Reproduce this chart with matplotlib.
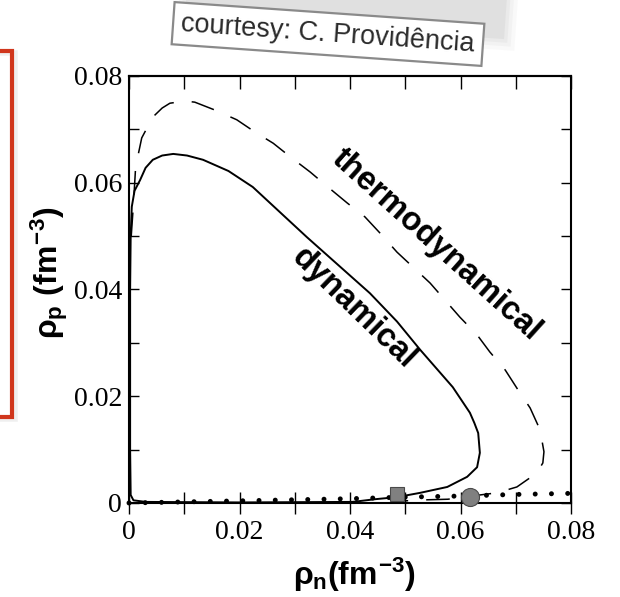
import numpy as np
import matplotlib
matplotlib.use("Agg")
import matplotlib.pyplot as plt
from matplotlib.patches import Rectangle

plt.rcParams['lines.scale_dashes'] = False
plt.rcParams['mathtext.fontset'] = 'custom'
plt.rcParams['mathtext.rm'] = 'Liberation Sans:bold'
plt.rcParams['mathtext.it'] = 'Liberation Sans:bold'
plt.rcParams['mathtext.bf'] = 'Liberation Sans:bold'

# dynamical spinodal (solid)
dyn_x = [0.0405, 0.0445, 0.0485, 0.0527, 0.0576, 0.0612, 0.0630, 0.0635, 0.0632,
         0.0625, 0.0617, 0.0586, 0.0527, 0.0485, 0.0436, 0.0322, 0.0224, 0.0180,
         0.0134, 0.0105, 0.0080, 0.0060, 0.0043, 0.0030, 0.0020, 0.0010, 0.0005,
         0.0003, 0.0002, 0.0002, 0.0003, 0.0008, 0.0030, 0.0200, 0.0405]
dyn_y = [0.0002, 0.0007, 0.0011, 0.0019, 0.0030, 0.0049, 0.0067, 0.0094, 0.0131,
         0.0150, 0.0169, 0.0217, 0.0287, 0.0340, 0.0393, 0.0498, 0.0592, 0.0622,
         0.0643, 0.0651, 0.0654, 0.0651, 0.0643, 0.0628, 0.0605, 0.0585, 0.0555,
         0.0500, 0.0400, 0.0100, 0.0015, 0.0005, 0.0002, 0.0001, 0.0002]

# thermodynamical spinodal (dashed)
thermo_x = [0.0004, 0.0008, 0.0012, 0.0023, 0.0043, 0.0060, 0.0074, 0.0101, 0.0119,
            0.0156, 0.0195, 0.0228, 0.0261, 0.0295, 0.0328, 0.0360, 0.0395, 0.0427,
            0.0454, 0.0485, 0.0514, 0.0545, 0.0572, 0.0599, 0.0630, 0.0653, 0.0681,
            0.0704, 0.0726, 0.0744, 0.0751, 0.0749, 0.0738, 0.0702, 0.0666, 0.0635,
            0.0617, 0.0577, 0.0541, 0.0500]
thermo_y = [0.0500, 0.0560, 0.0630, 0.0684, 0.0723, 0.0740, 0.0749, 0.0753, 0.0751,
            0.0736, 0.0718, 0.0695, 0.0674, 0.0646, 0.0620, 0.0592, 0.0562, 0.0536,
            0.0506, 0.0470, 0.0442, 0.0412, 0.0380, 0.0348, 0.0315, 0.0283, 0.0249,
            0.0212, 0.0178, 0.0137, 0.0096, 0.0075, 0.0056, 0.0030, 0.0019, 0.0015,
            0.0012, 0.0007, 0.0006, 0.0004]

# beta-equilibrium line (dotted)
beta_x = [0.0, 0.01, 0.02, 0.03, 0.04, 0.05, 0.06, 0.07, 0.08]
beta_y = [0.0000, 0.0002, 0.0004, 0.0006, 0.0008, 0.0011, 0.0013, 0.0016, 0.0018]

# crossing points
sq_x, sq_y = 0.0485, 0.0016
circ_x, circ_y = 0.0618, 0.0012

ticks = [0.0, 0.01, 0.02, 0.03, 0.04, 0.05, 0.06, 0.07, 0.08]
tick_labels = ['0', '', '0.02', '', '0.04', '', '0.06', '', '0.08']

fig = plt.figure(figsize=(6.2, 5.97), dpi=100)

# decorations in pixel space
bg = fig.add_axes([0, 0, 1, 1], zorder=0)
bg.set_xlim(0, 620)
bg.set_ylim(597, 0)
bg.axis('off')

# red frame at the left edge, with faint shadow
bg.add_patch(Rectangle((-40, 53), 55, 366, fill=False, ec='#cccccc', lw=4, alpha=0.3))
bg.add_patch(Rectangle((-40, 51), 52, 366, fill=False, ec='#d0361c', lw=3))

# blurred shadow above the courtesy box
for grow, a in [(22, 0.04), (14, 0.05), (7, 0.06), (0, 0.08)]:
    w, h = 320 + grow, 44 + grow
    bg.add_patch(Rectangle((346 - w / 2, 6 - h / 2), w, h, angle=4,
                           rotation_point='center', fc='#777777', ec='none', alpha=a))

note = 'courtesy: C. Providência'
bg.text(328, 34, note, fontsize=19.5, family='Liberation Sans', color='#2a2a2a',
        rotation=-4, ha='center', va='center', rotation_mode='anchor',
        bbox=dict(boxstyle='square,pad=0.3', fc='white', ec='#8a8a8a', lw=1.6))

ax = fig.add_axes([0.2081, 0.1575, 0.7129, 0.7152], zorder=1)
ax.plot(dyn_x, dyn_y, color='black', lw=1.4, solid_joinstyle='round')
ax.plot(thermo_x, thermo_y, color='black', lw=1.1, dashes=[17, 13])
ax.plot(beta_x, beta_y, color='black', lw=3.6, dashes=[0.001, 11.7],
        dash_capstyle='round', clip_on=False)
ax.plot([sq_x], [sq_y], marker='s', ms=10, mfc='#808080', mec='#4a4a4a', mew=0.8,
        clip_on=False, zorder=5)
ax.plot([circ_x], [circ_y], marker='o', ms=13, mfc='#808080', mec='#4a4a4a', mew=0.8,
        clip_on=False, zorder=5)

ax.text(0.0557, 0.0483, 'thermodynamical', rotation=-42, fontsize=23.5, weight='bold',
        family='Liberation Sans', ha='center', va='center', rotation_mode='anchor')
ax.text(0.0406, 0.0365, 'dynamical', rotation=-44, fontsize=23.5, weight='bold',
        family='Liberation Sans', ha='center', va='center', rotation_mode='anchor')

ax.set_xlim(0, 0.08)
ax.set_ylim(0, 0.08)
ax.set_xticks(ticks)
ax.set_xticklabels(tick_labels)
ax.set_yticks(ticks)
ax.set_yticklabels(tick_labels)
for lab in ax.get_xticklabels() + ax.get_yticklabels():
    lab.set_family('Liberation Serif')
    lab.set_fontsize(20)
ax.tick_params(axis='x', direction='inout', length=16, width=1, top=False, pad=4)
ax.tick_params(axis='y', direction='in', length=7, width=1, right=True, pad=5)

# top ticks point inward only
top = ax.secondary_xaxis('top')
top.set_xticks(ticks)
top.set_xticklabels([])
top.tick_params(direction='in', length=9, width=1)

for sp in ax.spines.values():
    sp.set_linewidth(1.5)
top.spines['top'].set_linewidth(1.5)

ax.set_xlabel(r'$\rho_{n}(fm^{-3})$', fontsize=23)
ax.xaxis.set_label_coords(0.511, -0.124)
ax.set_ylabel(r'$\rho_{p}\ (fm^{-3})$', fontsize=23)
ax.yaxis.set_label_coords(-0.133, 0.539)

fig.savefig('out.png', dpi=100)
